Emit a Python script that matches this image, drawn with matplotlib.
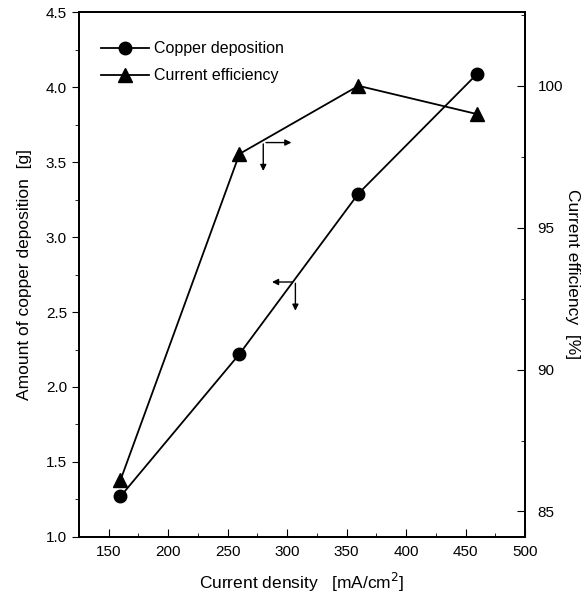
import matplotlib.pyplot as plt
from matplotlib.ticker import MultipleLocator

plt.rcParams['font.family'] = ['Liberation Sans', 'DejaVu Sans']

# data
current_density = [160, 260, 360, 460]
copper_deposition = [1.27, 2.22, 3.29, 4.09]
current_efficiency = [86.1, 97.6, 100.0, 99.0]

fig = plt.figure(figsize=(5.88, 6.02), dpi=100)
ax = fig.add_axes([0.134, 0.108, 0.759, 0.872])
ax2 = ax.twinx()

l1, = ax.plot(current_density, copper_deposition, color='black', lw=1.3,
              marker='o', markersize=9, label='Copper deposition')
l2, = ax2.plot(current_density, current_efficiency, color='black', lw=1.3,
               marker='^', markersize=10, label='Current efficiency')

ax.set_xlim(125, 500)
ax.set_ylim(1.0, 4.5)
ax2.set_ylim(84.1, 102.6)

ax.xaxis.set_major_locator(MultipleLocator(50))
ax.xaxis.set_minor_locator(MultipleLocator(25))
ax.yaxis.set_major_locator(MultipleLocator(0.5))
ax.yaxis.set_minor_locator(MultipleLocator(0.25))
ax2.yaxis.set_major_locator(MultipleLocator(5))
ax2.yaxis.set_minor_locator(MultipleLocator(2.5))

ax.tick_params(axis='x', which='both', direction='in', labelsize=11, pad=6)
ax.tick_params(axis='x', which='major', length=6)
ax.tick_params(axis='x', which='minor', length=3)
ax.tick_params(axis='y', which='both', direction='out', labelsize=11)
ax.tick_params(axis='y', which='major', length=5)
ax.tick_params(axis='y', which='minor', length=3)
ax2.tick_params(axis='y', which='both', direction='in', labelsize=11, pad=9)
ax2.tick_params(axis='y', which='major', length=6)
ax2.tick_params(axis='y', which='minor', length=3)

for a in (ax, ax2):
    for s in a.spines.values():
        s.set_linewidth(1.3)

ax.set_xlabel('Current density   [mA/cm$^2$]', fontsize=12.5, labelpad=8)
ax.set_ylabel('Amount of copper deposition  [g]', fontsize=12.5, labelpad=10)
ax2.set_ylabel('Current efficiency  [%]', fontsize=12.5, rotation=270, labelpad=12)

# arrows pointing to the matching axis
arrow = dict(arrowstyle='-|>', color='black', lw=1.0, mutation_scale=9)
ax2.annotate('', xy=(306, 98.0), xytext=(280, 98.0), arrowprops=arrow)
ax2.annotate('', xy=(280, 96.9), xytext=(280, 98.05), arrowprops=arrow)
ax.annotate('', xy=(285, 2.70), xytext=(307, 2.70), arrowprops=arrow)
ax.annotate('', xy=(307, 2.49), xytext=(307, 2.71), arrowprops=arrow)

ax.legend(handles=[l1, l2], loc='upper left', frameon=False, fontsize=11.5,
          handlelength=3.0, borderaxespad=0.6, labelspacing=0.75,
          handletextpad=0.3, bbox_to_anchor=(0.015, 0.975))

fig.savefig('out.png', dpi=100)
